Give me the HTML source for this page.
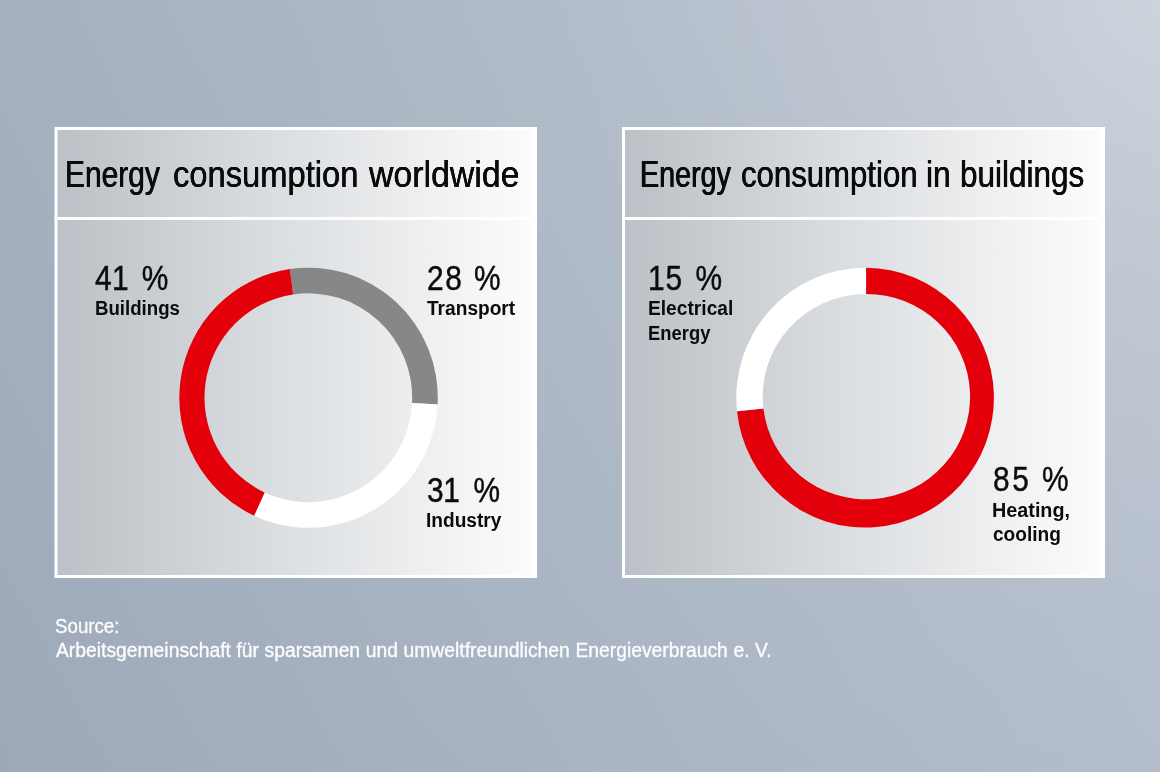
<!DOCTYPE html>
<html lang="en">
<head>
<meta charset="utf-8">
<title>Energy consumption</title>
<style>
html,body{margin:0;padding:0;}
body{width:1160px;height:772px;overflow:hidden;position:relative;
  font-family:"Liberation Sans",sans-serif;color:#0b0b0b;background:#a8b2c1;}
#bg{position:absolute;left:0;top:0;width:1160px;height:772px;
  background:
   radial-gradient(circle at 100% 0%,rgba(255,255,255,.29) 0,rgba(255,255,255,.20) 150px,rgba(255,255,255,.135) 300px,rgba(255,255,255,.09) 450px,rgba(255,255,255,.055) 600px,rgba(255,255,255,.03) 800px,rgba(255,255,255,.015) 1100px,rgba(255,255,255,0) 1400px),
   linear-gradient(62.3deg,rgb(157,169,185) 0%,rgb(184,194,206) 100%);}
svg{position:absolute;left:0;top:0;}
.t{position:absolute;white-space:nowrap;transform-origin:0 0;line-height:1;margin:0;padding:0;font-weight:normal;}
.title{font-size:36.4px;}
.num{font-size:35.6px;}
.lab{font-size:20.7px;}
.src{font-size:19.4px;}
.title{font-weight:normal;}
.num{-webkit-text-stroke:0.45px #0b0b0b;}
.lab{font-weight:bold;}
.src{color:#fbfcfd;-webkit-text-stroke:0.35px #fbfcfd;}
</style>
</head>
<body>
<main>
<div id="bg"></div>
<svg width="1160" height="772" viewBox="0 0 1160 772" role="img" aria-label="Donut charts">
<defs>
<linearGradient id="pg" x1="0" y1="0" x2="1" y2="0">
<stop offset="0" stop-color="#bbc1c6"/><stop offset="0.5" stop-color="#dde0e3"/><stop offset="1" stop-color="#fcfcfc"/>
</linearGradient>
</defs>
<rect x="54.5" y="127" width="482.5" height="451" fill="#fff"/>
<rect x="57.5" y="130" width="476.5" height="445" fill="url(#pg)"/>
<rect x="54.5" y="217" width="482.5" height="3" fill="#fff"/>
<rect x="622" y="127" width="483" height="451" fill="#fff"/>
<rect x="625" y="130" width="477" height="445" fill="url(#pg)"/>
<rect x="622" y="217" width="483" height="3" fill="#fff"/>
<path d="M289.89 269.03A129.25 130.05 0 0 1 437.63 404.41L412.06 403.12A103.85 104.4 0 0 0 293.09 294.48Z" fill="#878787"/>
<path d="M437.63 404.41A129.25 130.05 0 0 1 254.13 515.68L264.63 492.45A103.85 104.4 0 0 0 412.06 403.12Z" fill="#fff"/>
<path d="M254.13 515.68A129.25 130.05 0 0 1 289.89 269.03L293.09 294.48A103.85 104.4 0 0 0 264.63 492.45Z" fill="#e3000b"/>
<path d="M866.05 267.80A128.8 129.9 0 1 1 737.01 411.30L763.39 408.50A103.7 102.65 0 1 0 866.05 294.00Z" fill="#e3000b"/>
<path d="M737.01 411.30A128.8 129.9 0 0 1 866.05 267.80L866.05 294.00A103.7 102.65 0 0 0 763.39 408.50Z" fill="#fff"/>
</svg>
<h2 class="t title" style="left:0;top:157px;"><span class="t" style="left:65.40px;top:0;transform:scaleX(0.8228);text-shadow:0.39px 0 0 #0b0b0b,-0.39px 0 0 #0b0b0b;">Energy</span> <span class="t" style="left:172.85px;top:0;transform:scaleX(0.8988);text-shadow:0.22px 0 0 #0b0b0b,-0.22px 0 0 #0b0b0b;">consumption</span> <span class="t" style="left:369.44px;top:0;transform:scaleX(0.9299);text-shadow:0.15px 0 0 #0b0b0b,-0.15px 0 0 #0b0b0b;">worldwide</span></h2>
<h2 class="t title" style="left:0;top:157px;"><span class="t" style="left:639.57px;top:0;transform:scaleX(0.7883);text-shadow:0.48px 0 0 #0b0b0b,-0.48px 0 0 #0b0b0b;">Energy</span> <span class="t" style="left:741.08px;top:0;transform:scaleX(0.8556);text-shadow:0.31px 0 0 #0b0b0b,-0.31px 0 0 #0b0b0b;">consumption</span> <span class="t" style="left:925.85px;top:0;transform:scaleX(0.8735);text-shadow:0.27px 0 0 #0b0b0b,-0.27px 0 0 #0b0b0b;">in</span> <span class="t" style="left:960.41px;top:0;transform:scaleX(0.8650);text-shadow:0.29px 0 0 #0b0b0b,-0.29px 0 0 #0b0b0b;">buildings</span></h2>
<p class="t num" style="left:95.27px;top:261px;transform:scaleX(0.8400);letter-spacing:0.38px;word-spacing:4.98px;">41 %</p>
<p class="t lab" style="left:94.55px;top:298px;transform:scaleX(0.9011);">Buildings</p>
<p class="t num" style="left:426.53px;top:261px;transform:scaleX(0.8400);letter-spacing:1.96px;word-spacing:0.75px;">28 %</p>
<p class="t lab" style="left:426.97px;top:298px;transform:scaleX(0.9242);">Transport</p>
<p class="t num" style="left:427.24px;top:473px;transform:scaleX(0.8400);letter-spacing:-0.30px;word-spacing:6.69px;">31 %</p>
<p class="t lab" style="left:426.21px;top:510px;transform:scaleX(0.9237);">Industry</p>
<p class="t num" style="left:647.59px;top:261px;transform:scaleX(0.8400);letter-spacing:0.94px;word-spacing:4.23px;">15 %</p>
<p class="t lab" style="left:647.61px;top:298px;transform:scaleX(0.9270);">Electrical</p>
<p class="t lab" style="left:647.67px;top:323px;transform:scaleX(0.8891);">Energy</p>
<p class="t num" style="left:992.74px;top:462px;transform:scaleX(0.8400);letter-spacing:3.14px;word-spacing:-0.54px;">85 %</p>
<p class="t lab" style="left:992.17px;top:500px;transform:scaleX(0.9562);">Heating,</p>
<p class="t lab" style="left:992.51px;top:524px;transform:scaleX(0.9231);">cooling</p>
<p class="t src" style="left:54.80px;top:617px;transform:scaleX(0.9647);">Source:</p>
<p class="t src" style="left:55.76px;top:641px;transform:scaleX(0.9954);word-spacing:0.25px;">Arbeitsgemeinschaft für sparsamen und umweltfreundlichen Energieverbrauch e. V.</p>
</main>
</body>
</html>
